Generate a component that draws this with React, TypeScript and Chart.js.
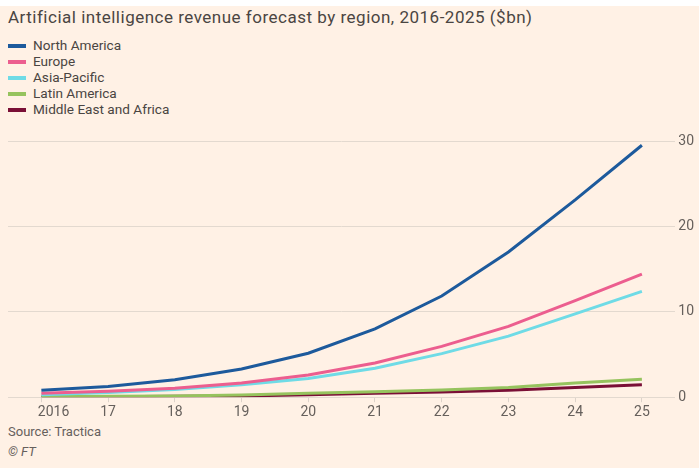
import React, { useEffect, useRef } from "react";
import { Chart, registerables } from "chart.js";

Chart.register(...registerables);

const years = ["2016", "17", "18", "19", "20", "21", "22", "23", "24", "25"];
const northAmerica = [0.8, 1.25, 2.05, 3.3, 5.15, 8.0, 11.85, 17.0, 23.1, 29.5];
const europe = [0.45, 0.7, 1.05, 1.65, 2.6, 4.0, 5.95, 8.3, 11.3, 14.4];
const asiaPacific = [0.3, 0.55, 0.9, 1.45, 2.2, 3.4, 5.1, 7.15, 9.75, 12.4];
const latinAmerica = [0.05, 0.1, 0.15, 0.25, 0.45, 0.65, 0.85, 1.15, 1.65, 2.1];
const middleEastAfrica = [0.03, 0.06, 0.1, 0.15, 0.3, 0.45, 0.62, 0.8, 1.15, 1.45];
const yTicks = [0, 10, 20, 30];

const seriesNames = ["North America", "Europe", "Asia-Pacific", "Latin America", "Middle East and Africa"];
const seriesColors = ["#1d5a9c", "#ec5e8f", "#6fdbe6", "#96c35e", "#7a0f36"];
const seriesData = [northAmerica, europe, asiaPacific, latinAmerica, middleEastAfrica];

const FONT = "Roboto, 'Noto Sans', sans-serif";

export default function App() {
  const canvasRef = useRef<HTMLCanvasElement | null>(null);

  useEffect(() => {
    document.body.style.margin = "0";
    const canvas = canvasRef.current;
    if (!canvas) return;
    const chart = new Chart(canvas, {
      type: "line",
      data: {
        labels: years,
        datasets: seriesNames.map((name, i) => ({
          label: name,
          data: seriesData[i],
          borderColor: seriesColors[i],
          backgroundColor: seriesColors[i],
          borderWidth: 3,
          pointRadius: 0,
          tension: 0,
          fill: false,
        })),
      },
      options: {
        animation: false,
        responsive: false,
        maintainAspectRatio: false,
        layout: { padding: { left: 8, right: 2, top: 22, bottom: 0 } },
        plugins: {
          legend: { display: false },
          title: { display: false },
          tooltip: { enabled: false },
        },
        scales: {
          x: {
            type: "category",
            offset: true,
            grid: {
              offset: false,
              drawOnChartArea: false,
              drawTicks: true,
              tickLength: 5,
              color: "#ddd3ca",
            },
            border: { display: false },
            ticks: {
              color: "#66605c",
              font: { family: FONT, size: 14 },
              padding: 2,
              maxRotation: 0,
              autoSkip: false,
              callback: (_v: any, idx: number) => (idx === 0 ? "       " + years[idx] : years[idx]),
            },
          },
          y: {
            position: "right",
            min: 0,
            max: 30,
            afterBuildTicks: (axis: any) => {
              axis.ticks = yTicks.map((v) => ({ value: v }));
            },
            grid: {
              drawTicks: false,
              color: "#e3d9cf",
              lineWidth: 1,
            },
            border: { display: false },
            ticks: {
              color: "#66605c",
              font: { family: FONT, size: 14 },
              padding: 3,
            },
          },
        },
      },
    });
    return () => chart.destroy();
  }, []);

  return (
    <div style={{ position: "relative", width: 699, height: 468, background: "#ffffff", overflow: "hidden" }}>
      <div style={{ position: "absolute", left: 0, top: 6, width: 699, height: 462, background: "#fff1e5" }} />
      <div
        style={{
          position: "absolute",
          left: 8,
          top: 7,
          fontFamily: FONT,
          fontSize: 17,
          letterSpacing: 0.5,
          color: "#4a4542",
          whiteSpace: "nowrap",
          lineHeight: "20px",
        }}
      >
        Artificial intelligence revenue forecast by region, 2016-2025 ($bn)
      </div>
      <div style={{ position: "absolute", left: 8, top: 38, fontFamily: FONT, fontSize: 13.6, color: "#4a4542" }}>
        {seriesNames.map((name, i) => (
          <div key={name} style={{ display: "flex", alignItems: "center", height: 15.9, lineHeight: "15.9px" }}>
            <span style={{ display: "inline-block", width: 18, height: 4, background: seriesColors[i], marginRight: 7 }} />
            <span>{name}</span>
          </div>
        ))}
      </div>
      <canvas
        ref={canvasRef}
        width={699}
        height={304}
        style={{ position: "absolute", left: 0, top: 119, width: 699, height: 304 }}
      />
      <div style={{ position: "absolute", left: 8, top: 424, fontFamily: FONT, fontSize: 13, color: "#66605c" }}>
        Source: Tractica
      </div>
      <div
        style={{ position: "absolute", left: 8, top: 444, fontFamily: FONT, fontSize: 13, color: "#66605c", fontStyle: "italic" }}
      >
        © FT
      </div>
    </div>
  );
}
